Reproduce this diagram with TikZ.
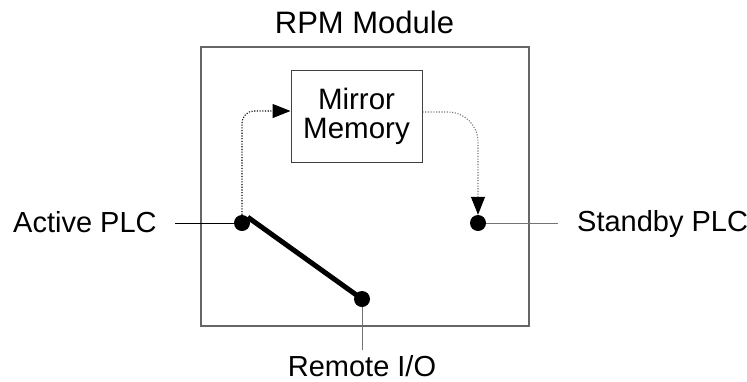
\documentclass[tikz,border=0pt]{standalone}
\usepackage{fontspec}
\setmainfont{Liberation Sans}
\usetikzlibrary{arrows.meta}
\begin{document}
\begin{tikzpicture}[x=1pt,y=-1pt,
  lbl/.style={inner sep=0pt,font=\fontsize{29}{29}\selectfont},
  dotnode/.style={circle,fill=black,inner sep=0pt,minimum size=16pt},
  wire/.style={line width=1pt},
  flow/.style={line width=1.1pt,dash pattern=on 1.1pt off 1.6pt,-{Triangle[length=18pt,width=14pt,fill=black,color=black]}},
  membox/.style={draw=black!75,line width=1pt,minimum width=131pt,minimum height=92pt,align=center,inner sep=0pt,font=\fontsize{29.5}{29}\selectfont}]
\useasboundingbox (0,0) rectangle (747,381);
% outer module box
\draw[black!60,line width=1.2pt] (201,47) rectangle (529,326);
\node[inner sep=0pt,font=\fontsize{31}{31}\selectfont,anchor=base] (title) at (364.5,33) {RPM Module};
\node[membox] (mem) at (356.5,116) {Mirror\\Memory};
% labels
\node[lbl,anchor=base west] (alabel) at (13,232) {Active PLC};
\node[lbl,anchor=base west] (slabel) at (577,231) {Standby PLC};
\node[lbl,anchor=base] (rlabel) at (362,376) {Remote I/O};
% line ends
\coordinate (aend) at (175,223);
\coordinate (send) at (558,223);
\coordinate (rend) at (362,350);
% wires
\draw[wire,black] (aend) -- (242,223) coordinate (acen);
\draw[wire,black!55] (send) -- (478,223) coordinate (scen);
\draw[wire,black!55] (rend) -- (362,299) coordinate (rcen);
% dots
\node[dotnode] (adot) at (acen) {};
\node[dotnode] (sdot) at (scen) {};
\node[dotnode] (rdot) at (rcen) {};
% switch
\draw[line width=5pt] (adot.45) -- (rdot.center);
% dotted flows
\draw[flow,black,rounded corners=12pt] (adot.north) -- (242,111) -- (mem.west |- 0,111);
\draw[flow,black!55,rounded corners=30pt] (mem.east |- 0,112) -- (478,112) -- (sdot.north);
\end{tikzpicture}
\end{document}
